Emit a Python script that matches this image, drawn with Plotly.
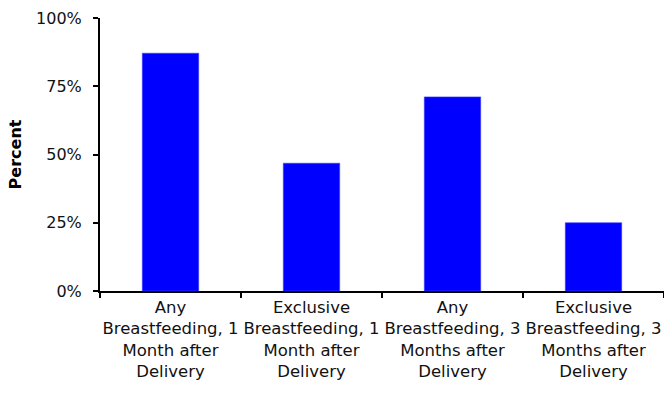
import plotly.graph_objects as go

# Breastfeeding outcomes after delivery
categories = [
    "Any<br>Breastfeeding, 1<br>Month after<br>Delivery",
    "Exclusive<br>Breastfeeding, 1<br>Month after<br>Delivery",
    "Any<br>Breastfeeding, 3<br>Months after<br>Delivery",
    "Exclusive<br>Breastfeeding, 3<br>Months after<br>Delivery",
]
percent_values = [87.1, 46.8, 71.1, 25.0]
y_tick_values = [0, 25, 50, 75, 100]
y_tick_labels = ["0%", "25%", "50%", "75%", "100%"]

FONT = "DejaVu Sans"

fig = go.Figure(
    go.Bar(
        x=categories,
        y=percent_values,
        marker=dict(color="#0000FF", line=dict(color="#3a3aff", width=0.6)),
        hoverinfo="skip",
    )
)

fig.update_layout(
    width=664,
    height=396,
    margin=dict(l=100, r=0, t=18, b=105),
    paper_bgcolor="white",
    plot_bgcolor="white",
    bargap=0.6,
    showlegend=False,
    font=dict(family=FONT, size=16, color="black"),
)

fig.update_xaxes(
    type="category",
    showline=True,
    linecolor="black",
    linewidth=2,
    ticks="outside",
    tickson="boundaries",
    ticklen=5,
    tickwidth=1.5,
    tickcolor="black",
    showgrid=False,
    tickangle=0,
    tickfont=dict(family=FONT, size=16.5, color="#111111"),
)

fig.update_yaxes(
    range=[0, 100],
    tickvals=y_tick_values,
    ticktext=y_tick_labels,
    showline=True,
    linecolor="black",
    linewidth=2,
    ticks="outside",
    ticklen=5,
    tickwidth=1.5,
    tickcolor="black",
    showgrid=False,
    zeroline=False,
    ticklabelstandoff=8,
    tickfont=dict(family=FONT, size=16, color="#111111"),
    title=dict(
        text="<b>Percent</b>",
        font=dict(family=FONT, size=16, color="black"),
        standoff=10,
    ),
)

fig.write_html("out.html")
